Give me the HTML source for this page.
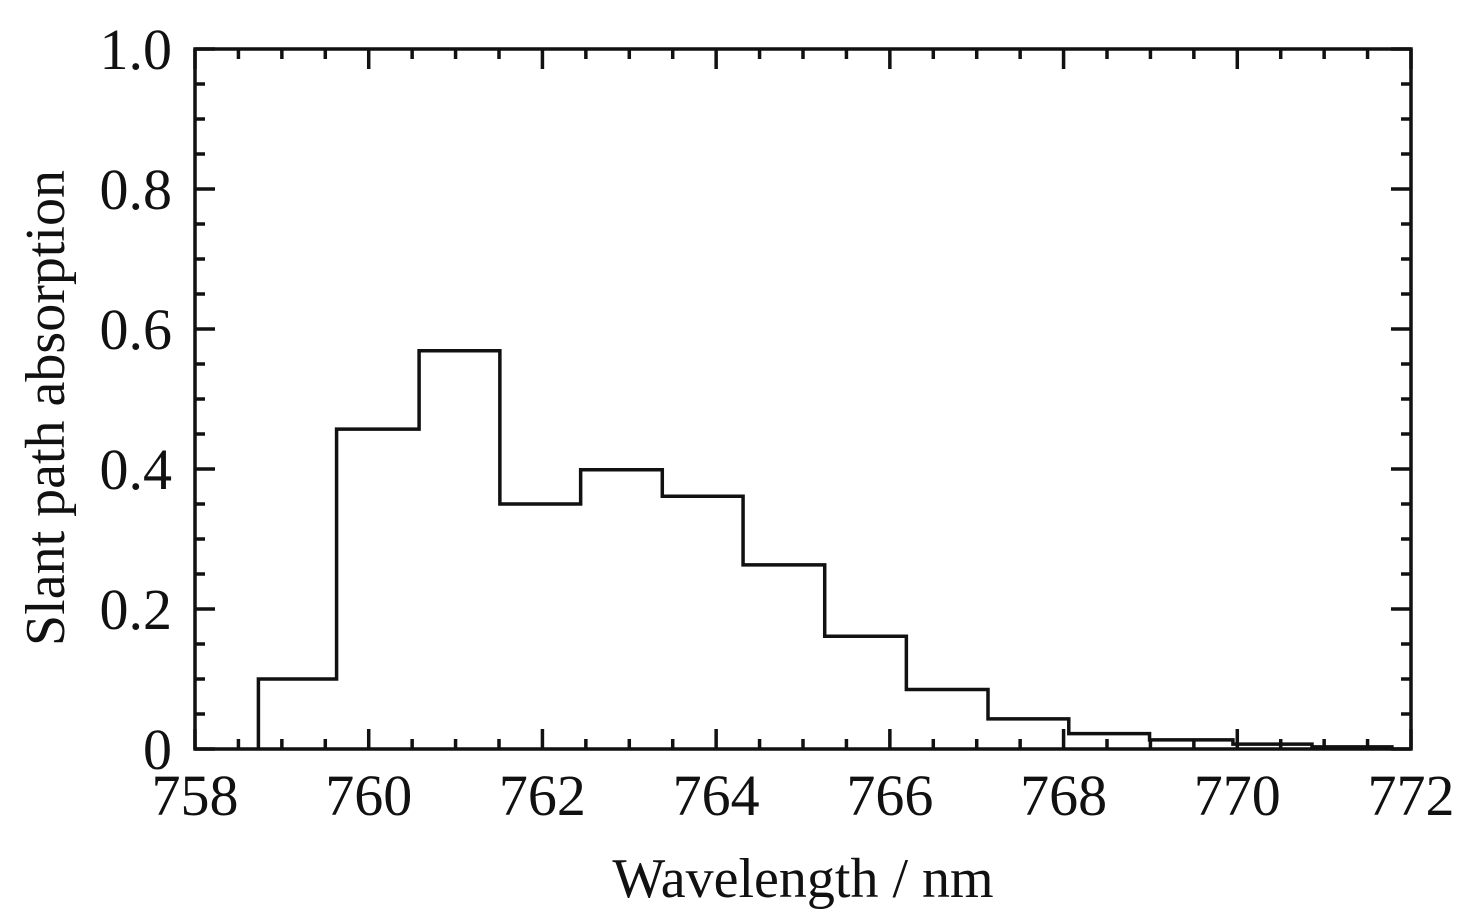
<!DOCTYPE html>
<html><head><meta charset="utf-8"><style>
body{margin:0;background:#fff}
svg text{font-family:"Liberation Serif",serif;fill:#111}
</style></head><body>
<svg id="chart" width="1476" height="914" xmlns="http://www.w3.org/2000/svg"></svg>
<script>
const edges=[758.73,759.63,760.58,761.51,762.44,763.38,764.31,765.25,766.19,767.13,768.06,768.99,769.95,770.86,771.80];
const values=[0.10,0.457,0.569,0.35,0.399,0.361,0.263,0.161,0.085,0.043,0.022,0.013,0.007,0.003];
const xTicks=[758,760,762,764,766,768,770,772];
const yTicks=[0,0.2,0.4,0.6,0.8,1.0];
const yTickLabels=["0","0.2","0.4","0.6","0.8","1.0"];
const L=195,R=1411,T=49,B=749;
const x=v=>L+(v-758)/14*(R-L);
const y=v=>B-v*(B-T);
const svg=document.getElementById('chart');
const NS='http://www.w3.org/2000/svg';
function mk(tag,attrs,name,text){const e=document.createElementNS(NS,tag);for(const k in attrs)e.setAttribute(k,attrs[k]);


if(text!==undefined)e.textContent=text;svg.appendChild(e);return e;}
for(let v=758;v<=772.001;v+=0.5){const maj=Math.abs(v/2-Math.round(v/2))<1e-6;const len=maj?20:10;const px=x(v);
mk('line',{x1:px,x2:px,y1:B,y2:B-len,stroke:'#111','stroke-width':3.5},'x-tick');
mk('line',{x1:px,x2:px,y1:T,y2:T+len,stroke:'#111','stroke-width':3.5},'x-tick-top');}
for(let i=0;i<=20;i++){const v=i*0.05;const maj=i%4===0;const len=maj?20:10;const py=y(v);
mk('line',{x1:L,x2:L+len,y1:py,y2:py,stroke:'#111','stroke-width':3.5},'y-tick');
mk('line',{x1:R,x2:R-len,y1:py,y2:py,stroke:'#111','stroke-width':3.5},'y-tick-right');}
mk('rect',{x:L,y:T,width:R-L,height:B-T,fill:'none',stroke:'#111','stroke-width':3.5},'plot-frame');
xTicks.forEach(v=>mk('text',{x:x(v),y:815,'font-size':58,'text-anchor':'middle'},'x-tick-label',String(v)));
yTicks.forEach((v,i)=>mk('text',{x:172,y:y(v)+20,'font-size':58,'text-anchor':'end'},'y-tick-label',yTickLabels[i]));
mk('text',{x:803,y:897,'font-size':56,'text-anchor':'middle'},'x-axis-title','Wavelength / nm');
mk('text',{x:0,y:0,'font-size':56,'text-anchor':'middle',transform:'translate(64,408) rotate(-90)'},'y-axis-title','Slant path absorption');
let d='M'+x(edges[0])+','+y(0);
values.forEach((v,i)=>{d+=' L'+x(edges[i])+','+y(v)+' L'+x(edges[i+1])+','+y(v);});
mk('path',{d:d,fill:'none',stroke:'#111','stroke-width':3.5},'absorption-step-line');
</script>
</body></html>
